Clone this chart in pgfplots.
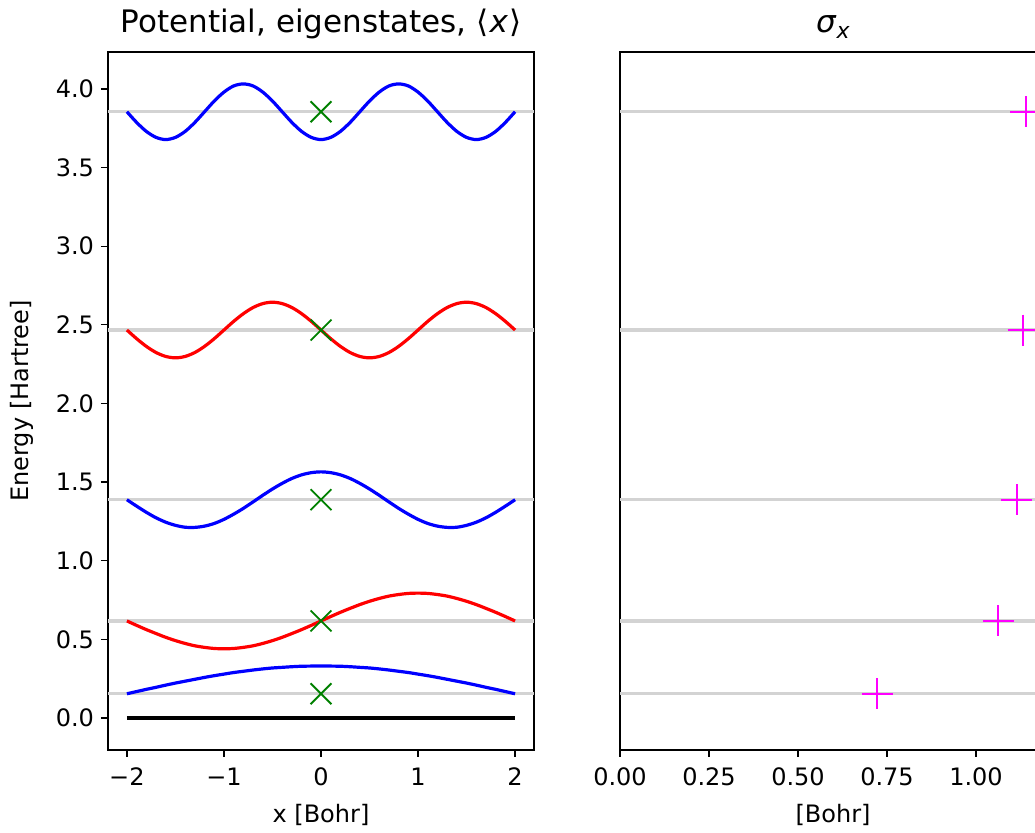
\documentclass[border=0pt]{standalone}
\usepackage{pgfplots}
\pgfplotsset{compat=1.18}
\usepackage{fontspec}
\setmainfont{DejaVu Sans}
\definecolor{mplgreen}{RGB}{0,128,0}
\definecolor{mplgray}{RGB}{211,211,211}
\definecolor{mplmagenta}{RGB}{255,0,255}
\begin{document}
\begin{tikzpicture}
\useasboundingbox (0pt,0pt) rectangle (517.5pt,416.5pt);
\clip (0pt,0pt) rectangle (517.5pt,416.5pt);
\pgfplotsset{
  every axis/.append style={
    scale only axis, width=213pt, height=349pt, anchor=south west,
    axis line style={line width=0.8pt},
    tick style={black, line width=0.6pt},
    tick align=outside, major tick length=3.5pt,
    xtick pos=bottom, ytick pos=left,
    ticklabel style={font=\fontsize{12}{14}\selectfont},
    xticklabel style={yshift=-2pt},
    label style={font=\fontsize{12}{14}\selectfont},
    xlabel style={at={(axis description cs:0.5,-0.0931)}, anchor=center},
    title style={font=\fontsize{15.5}{18}\selectfont, at={(axis description cs:0.5,1)}, anchor=south, yshift=-3pt},
    /pgf/number format/assume math mode=true,
    ymin=-0.2035, ymax=4.235,
  }
}
% Left panel
\begin{axis}[at={(54pt,41.5pt)},
  xmin=-2.195, xmax=2.195,
  xtick={-2,-1,0,1,2}, xticklabels={−2,−1,0,1,2},
  ytick={0,0.5,1,1.5,2,2.5,3,3.5,4},
  yticklabels={0.0,0.5,1.0,1.5,2.0,2.5,3.0,3.5,4.0},
  xlabel={x [Bohr]}, ylabel={Energy [Hartree]},
  ylabel style={at={(axis description cs:-0.202,0.5)}, anchor=center},
  title={Potential, eigenstates, ⟨\kern0.5pt\textit{x}\kern0.5pt⟩},
]
% energy levels
\addplot[mplgray, line width=1.6pt] coordinates {(-2.195,0.154) (2.195,0.154)};
\addplot[mplgray, line width=1.6pt] coordinates {(-2.195,0.617) (2.195,0.617)};
\addplot[mplgray, line width=1.6pt] coordinates {(-2.195,1.388) (2.195,1.388)};
\addplot[mplgray, line width=1.6pt] coordinates {(-2.195,2.467) (2.195,2.467)};
\addplot[mplgray, line width=1.6pt] coordinates {(-2.195,3.855) (2.195,3.855)};
% potential
\addplot[black, line width=1.6pt] coordinates {(-2,0) (2,0)};
% n=1
\addplot[blue, line width=1.6pt, smooth] coordinates {
(-2.0,0.154) (-1.9,0.168) (-1.8,0.182) (-1.7,0.195) (-1.6,0.209) (-1.5,0.222) (-1.4,0.234) (-1.3,0.246) (-1.2,0.258) (-1.1,0.269) (-1.0,0.279)
(-0.9,0.289) (-0.8,0.297) (-0.7,0.305) (-0.6,0.312) (-0.5,0.318) (-0.4,0.322) (-0.3,0.326) (-0.2,0.329) (-0.1,0.330) (0.0,0.331)
(0.1,0.330) (0.2,0.329) (0.3,0.326) (0.4,0.322) (0.5,0.318) (0.6,0.312) (0.7,0.305) (0.8,0.297) (0.9,0.289) (1.0,0.279)
(1.1,0.269) (1.2,0.258) (1.3,0.246) (1.4,0.234) (1.5,0.222) (1.6,0.209) (1.7,0.195) (1.8,0.182) (1.9,0.168) (2.0,0.154)};
% n=2
\addplot[red, line width=1.6pt, smooth] coordinates {
(-2.0,0.617) (-1.9,0.589) (-1.8,0.562) (-1.7,0.537) (-1.6,0.513) (-1.5,0.492) (-1.4,0.474) (-1.3,0.459) (-1.2,0.449) (-1.1,0.442) (-1.0,0.440)
(-0.9,0.442) (-0.8,0.449) (-0.7,0.459) (-0.6,0.474) (-0.5,0.492) (-0.4,0.513) (-0.3,0.537) (-0.2,0.562) (-0.1,0.589) (0.0,0.617)
(0.1,0.645) (0.2,0.672) (0.3,0.697) (0.4,0.721) (0.5,0.742) (0.6,0.760) (0.7,0.775) (0.8,0.785) (0.9,0.792) (1.0,0.794)
(1.1,0.792) (1.2,0.785) (1.3,0.775) (1.4,0.760) (1.5,0.742) (1.6,0.721) (1.7,0.697) (1.8,0.672) (1.9,0.645) (2.0,0.617)};
% n=3
\addplot[blue, line width=1.6pt, smooth] coordinates {
(-2.0,1.388) (-1.9,1.347) (-1.8,1.308) (-1.7,1.273) (-1.6,1.245) (-1.5,1.225) (-1.4,1.213) (-1.3,1.212) (-1.2,1.220) (-1.1,1.237) (-1.0,1.263)
(-0.9,1.296) (-0.8,1.333) (-0.7,1.374) (-0.6,1.416) (-0.5,1.456) (-0.4,1.492) (-0.3,1.523) (-0.2,1.546) (-0.1,1.560) (0.0,1.565)
(0.1,1.560) (0.2,1.546) (0.3,1.523) (0.4,1.492) (0.5,1.456) (0.6,1.416) (0.7,1.374) (0.8,1.333) (0.9,1.296) (1.0,1.263)
(1.1,1.237) (1.2,1.220) (1.3,1.212) (1.4,1.213) (1.5,1.225) (1.6,1.245) (1.7,1.273) (1.8,1.308) (1.9,1.347) (2.0,1.388)};
% n=4
\addplot[red, line width=1.6pt, smooth] coordinates {
(-2.0,2.467) (-1.9,2.412) (-1.8,2.363) (-1.7,2.324) (-1.6,2.299) (-1.5,2.290) (-1.4,2.299) (-1.3,2.324) (-1.2,2.363) (-1.1,2.412) (-1.0,2.467)
(-0.9,2.522) (-0.8,2.571) (-0.7,2.610) (-0.6,2.635) (-0.5,2.644) (-0.4,2.635) (-0.3,2.610) (-0.2,2.571) (-0.1,2.522) (0.0,2.467)
(0.1,2.412) (0.2,2.363) (0.3,2.324) (0.4,2.299) (0.5,2.290) (0.6,2.299) (0.7,2.324) (0.8,2.363) (0.9,2.412) (1.0,2.467)
(1.1,2.522) (1.2,2.571) (1.3,2.610) (1.4,2.635) (1.5,2.644) (1.6,2.635) (1.7,2.610) (1.8,2.571) (1.9,2.522) (2.0,2.467)};
% n=5
\addplot[blue, line width=1.6pt, smooth] coordinates {
(-2.0,3.855) (-1.9,3.787) (-1.8,3.730) (-1.7,3.692) (-1.6,3.678) (-1.5,3.692) (-1.4,3.730) (-1.3,3.787) (-1.2,3.855) (-1.1,3.923) (-1.0,3.980)
(-0.9,4.019) (-0.8,4.032) (-0.7,4.019) (-0.6,3.980) (-0.5,3.923) (-0.4,3.855) (-0.3,3.787) (-0.2,3.730) (-0.1,3.692) (0.0,3.678)
(0.1,3.692) (0.2,3.730) (0.3,3.787) (0.4,3.855) (0.5,3.923) (0.6,3.980) (0.7,4.019) (0.8,4.032) (0.9,4.019) (1.0,3.980)
(1.1,3.923) (1.2,3.855) (1.3,3.787) (1.4,3.730) (1.5,3.692) (1.6,3.678) (1.7,3.692) (1.8,3.730) (1.9,3.787) (2.0,3.855)};
% <x>
\addplot[only marks, mark=x, mark size=7.4pt, mplgreen, mark options={line width=0.9pt}] coordinates {
(0,0.154) (0,0.617) (0,1.388) (0,2.467) (0,3.855)};
\end{axis}
% Right panel
\begin{axis}[at={(310pt,41.5pt)},
  xmin=0, xmax=1.1966,
  xtick={0,0.25,0.5,0.75,1.0}, xticklabels={0.00,0.25,0.50,0.75,1.00},
  ytick=\empty,
  xlabel={[Bohr]},
  title={\textit{σ}\raisebox{-0.35ex}{\fontsize{11}{13}\selectfont\textit{x}}},
]
\addplot[mplgray, line width=1.6pt] coordinates {(0,0.154) (1.1966,0.154)};
\addplot[mplgray, line width=1.6pt] coordinates {(0,0.617) (1.1966,0.617)};
\addplot[mplgray, line width=1.6pt] coordinates {(0,1.388) (1.1966,1.388)};
\addplot[mplgray, line width=1.6pt] coordinates {(0,2.467) (1.1966,2.467)};
\addplot[mplgray, line width=1.6pt] coordinates {(0,3.855) (1.1966,3.855)};
\addplot[only marks, mark=+, mark size=7.75pt, mplmagenta, mark options={line width=1pt}] coordinates {
(0.723,0.154) (1.063,0.617) (1.115,1.388) (1.132,2.467) (1.139,3.855)};
\end{axis}
\end{tikzpicture}
\end{document}
